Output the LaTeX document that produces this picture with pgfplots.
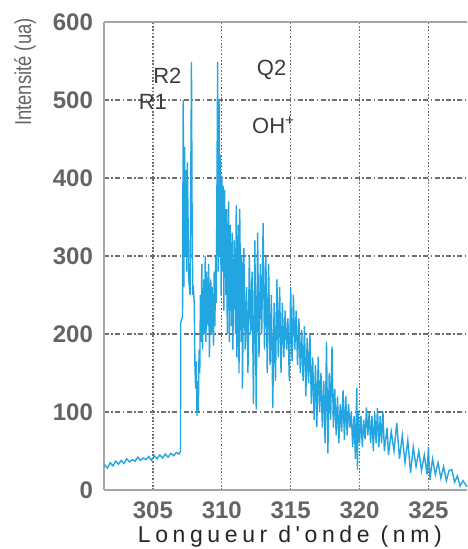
\documentclass[border=0pt]{standalone}
\usepackage{pgfplots}
\pgfplotsset{compat=1.18}
\usepackage{fontspec}
\setmainfont{Liberation Sans}
\newfontfamily\spacedfont[LetterSpace=20]{Liberation Sans}
\newfontfamily\narrowfont[FakeStretch=0.8]{Liberation Sans}
\definecolor{spec}{RGB}{35,165,225}
\definecolor{gridc}{RGB}{110,110,110}
\definecolor{framec}{RGB}{165,165,165}
\definecolor{tickc}{RGB}{100,100,100}
\definecolor{labc}{RGB}{60,60,60}
\begin{document}
\begin{tikzpicture}
\begin{axis}[
  scale only axis,
  width=181.5pt, height=234pt,
  xmin=301.45, xmax=327.8,
  ymin=0, ymax=600,
  xtick={305,310,315,320,325},
  ytick={0,100,200,300,400,500,600},
  axis y line*=left,
  axis line style={framec, line width=0.8pt},
  grid=major,
  every axis x grid/.append style={gridc, line width=0.6pt, dash pattern=on 0.8pt off 0.9pt},
  every axis y grid/.append style={gridc, line width=0.6pt, dash pattern=on 2.5pt off 1.2pt on 0.8pt off 1.2pt},
  tick style={draw=none},
  /pgf/number format/assume math mode=true,
  /pgf/number format/1000 sep={},
  ticklabel style={font=\fontsize{12}{13}\selectfont\bfseries, text=tickc},
  xticklabel style={yshift=-2.5pt},
  yticklabel style={xshift=-2pt},
  xlabel={\spacedfont Longueur d'onde (nm)},
  ylabel={\narrowfont Intensité (ua)},
  every axis x label/.style={at={(rel axis cs:0.512,0)}, anchor=center, yshift=-23.5pt, font=\fontsize{11.5}{13}\selectfont, text=black!85},
  every axis y label/.style={at={(rel axis cs:0,0.893)}, anchor=center, xshift=-39.5pt, rotate=90, font=\fontsize{11.5}{13}\selectfont, text=tickc},
  clip=true,
]
\coordinate (SW) at (rel axis cs:0,0);
\addplot[spec, line width=0.7pt, line join=miter] coordinates {
(301.45,33)(301.6,30)(301.7,28)(301.9,35)(302.1,31)(302.3,37)(302.5,33)(302.7,38)(302.9,34)
(303.1,40)(303.3,36)(303.5,39)(303.7,37)(303.9,42)(304.1,38)(304.3,41)(304.5,39)(304.7,43)
(304.9,38)(305.1,44)(305.3,40)(305.5,45)(305.7,41)(305.9,46)(306.1,42)(306.3,47)(306.5,44)
(306.7,48)(306.9,46)(307.0,50)
(307.02,215)(307.15,222)(307.2,500)(307.25,260)(307.3,440)(307.35,300)(307.4,410)(307.45,280)
(307.5,420)(307.55,350)(307.6,270)(307.7,250)(307.8,549)(307.85,330)(307.9,250)(307.95,255)
(308.0,240)(308.05,160)(308.1,130)(308.15,165)(308.2,95)(308.25,140)(308.3,100)(308.35,180)
(308.4,150)(308.45,250)(308.5,190)(308.55,290)(308.6,180)(308.7,270)(308.75,200)(308.8,300)
(308.85,190)(308.9,280)(309.0,210)(309.05,290)(309.1,170)(309.2,270)(309.25,200)(309.3,260)
(309.4,185)(309.45,280)(309.5,210)(309.55,300)(309.6,240)(309.7,549)(309.75,280)(309.8,500)
(309.85,300)(309.9,430)(309.95,250)(310.0,400)(310.05,280)(310.1,390)(310.15,230)(310.2,385)
(310.3,250)(310.35,360)(310.4,200)(310.5,370)(310.55,190)(310.6,340)(310.7,210)(310.75,330)
(310.8,180)(310.9,320)(311.0,200)(311.05,365)(311.1,170)(311.2,340)(311.25,150)(311.3,360)
(311.4,190)(311.45,300)(311.5,130)(311.6,310)(311.7,180)(311.8,260)(311.9,150)(312.0,300)
(312.1,200)(312.2,280)(312.3,110)(312.4,320)(312.5,103)(312.6,330)(312.7,170)(312.8,290)
(312.9,200)(313.0,342)(313.1,180)(313.2,300)(313.3,150)(313.4,290)(313.5,160)(313.6,250)
(313.7,105)(313.8,240)(313.9,140)(314.0,270)(314.1,170)(314.2,260)(314.3,150)(314.4,240)
(314.5,170)(314.6,230)(314.7,180)(314.8,220)(314.9,140)(315.0,260)(315.1,165)(315.2,250)
(315.3,180)(315.4,230)(315.5,160)(315.6,220)(315.7,150)(315.8,205)(315.9,140)(316.0,210)
(316.1,120)(316.2,195)(316.3,137)(316.4,200)(316.5,110)(316.6,170)(316.7,90)(316.8,160)
(316.9,81)(317.0,171)(317.1,100)(317.2,150)(317.3,80)(317.4,140)(317.5,60)(317.6,190)
(317.7,47)(317.8,150)(317.9,90)(318.0,184)(318.1,80)(318.2,130)(318.3,70)(318.4,120)
(318.5,60)(318.6,110)(318.7,75)(318.8,128)(318.9,64)(319.0,120)(319.1,70)(319.2,110)
(319.3,80)(319.4,100)(319.5,55)(319.6,95)(319.7,40)(319.8,131)(319.85,26)(319.9,100)
(320.0,60)(320.1,95)(320.2,55)(320.3,90)(320.4,65)(320.5,106)(320.6,70)(320.7,100)
(320.8,60)(320.9,95)(321.0,50)(321.1,99)(321.2,60)(321.3,105)(321.4,55)(321.5,95)
(321.6,60)(321.7,100)(321.8,50)(322.0,80)(322.1,45)(322.3,75)(322.5,50)(322.7,86)
(322.9,40)(323.1,70)(323.3,35)(323.5,64)(323.7,22)(323.9,55)(324.1,30)(324.3,50)
(324.5,25)(324.7,45)(324.9,20)(325.0,55)(325.1,13)(325.3,40)(325.5,20)(325.7,35)
(325.9,15)(326.1,30)(326.3,12)(326.5,25)(326.7,26)(326.9,10)(327.1,18)(327.3,5)
(327.5,12)(327.8,4)
};
\node[font=\fontsize{11}{12}\selectfont, text=labc] at (axis cs:306.05,531) {R2};
\node[font=\fontsize{11}{12}\selectfont, text=labc] at (axis cs:305.0,497) {R1};
\node[font=\fontsize{11}{12}\selectfont, text=labc] at (axis cs:313.62,538) {Q2};
\node[font=\fontsize{11}{12}\selectfont, text=labc] at (axis cs:313.77,468) {OH\textsuperscript{+}};
\end{axis}
\pgfresetboundingbox
\path (SW) ++(-52pt,-29.5pt) rectangle ++(233.5pt,274.5pt);
\end{tikzpicture}
\end{document}
